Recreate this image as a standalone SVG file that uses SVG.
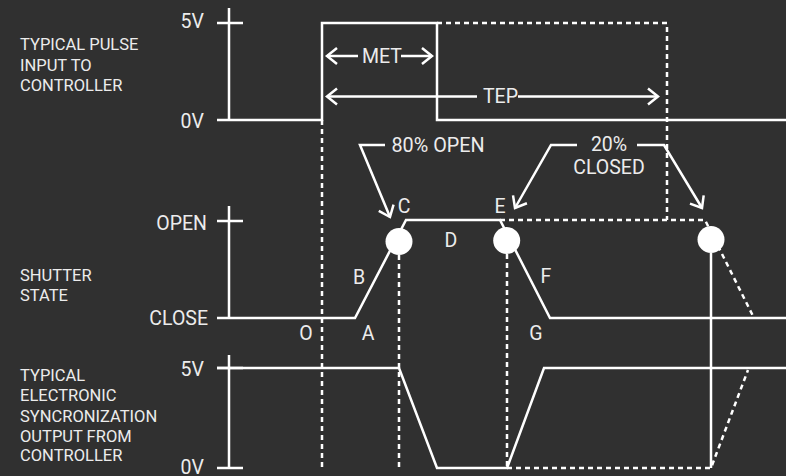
<svg xmlns="http://www.w3.org/2000/svg" width="786" height="476" viewBox="0 0 786 476">
<defs>
<style>
.ln{fill:none;stroke:#ffffff;stroke-width:2.5;stroke-linejoin:miter}
.ds{fill:none;stroke:#ffffff;stroke-width:2.5;stroke-dasharray:5 4}
.t{font-family:Roboto,"Liberation Sans",sans-serif;fill:#ececec}
.lab{font-size:16.5px}
.ax{font-size:19.5px;text-anchor:end}
.pt{font-size:19.5px;text-anchor:middle}
.dot{fill:#ffffff}
</style>
<marker id="ah" markerUnits="userSpaceOnUse" markerWidth="24" markerHeight="24" viewBox="-12 -12 24 24" refX="0" refY="0" orient="auto">
<path d="M-10,-8 L0,0 L-10,8" fill="none" stroke="#ffffff" stroke-width="2.5"/>
</marker>
</defs>
<rect x="0" y="0" width="786" height="476" fill="#303030"/>

<g id="pulse-input">
<text class="t lab" x="20" y="50">TYPICAL PULSE</text>
<text class="t lab" x="20" y="71">INPUT TO</text>
<text class="t lab" x="20" y="91">CONTROLLER</text>
<text class="t ax" x="204" y="28">5V</text>
<text class="t ax" x="204" y="128">0V</text>
<path class="ln" d="M229,8 V120 M217,23 H243"/>
<path class="ln" d="M217,120 H322 V23 H437 V120 H786"/>
<path class="ds" d="M437,23 H667 V220"/>
</g>

<g id="shutter-state">
<text class="t lab" x="20" y="281">SHUTTER</text>
<text class="t lab" x="20" y="301">STATE</text>
<text class="t ax" x="207" y="230">OPEN</text>
<text class="t ax" x="208" y="325">CLOSE</text>
<path class="ln" d="M229,206 V318 M217,221 H243"/>
<path class="ln" d="M217,318 H355 L406,220 H500 L550,318 H786"/>
<path class="ds" d="M500,220 H705 L753,316"/>
<circle class="dot" cx="399" cy="241.5" r="13.5"/>
<circle class="dot" cx="506.7" cy="240.5" r="13.5"/>
<circle class="dot" cx="711" cy="239.5" r="13.5"/>
</g>

<g id="sync-output">
<text class="t lab" x="20" y="381">TYPICAL</text>
<text class="t lab" x="20" y="401">ELECTRONIC</text>
<text class="t lab" x="20" y="422">SYNCRONIZATION</text>
<text class="t lab" x="20" y="442">OUTPUT FROM</text>
<text class="t lab" x="20" y="461">CONTROLLER</text>
<text class="t ax" x="204" y="376">5V</text>
<text class="t ax" x="204" y="474">0V</text>
<path class="ln" d="M229,355 V468 M217,368 H243 M217,468 H243"/>
<path class="ln" d="M217,368 H399 L437,468 H507 L544,368 H786"/>
<path class="ds" d="M507,468 H711 L748,370"/>
</g>

<g id="connectors">
<path class="ds" d="M322,120 V470"/>
<path class="ds" d="M399,255 V470"/>
<path class="ds" d="M507,254 V470"/>
<path class="ln" d="M711,253 V468"/>
<path class="ln" d="M358,56 H327" marker-end="url(#ah)"/>
<path class="ln" d="M401,56 H432" marker-end="url(#ah)"/>
<path class="ln" d="M477,96.5 H327" marker-end="url(#ah)"/>
<path class="ln" d="M518,96.5 H658" marker-end="url(#ah)"/>
<path class="ln" d="M385,145 H360 L390,217" marker-end="url(#ah)"/>
<path class="ln" d="M577,145 H551 L515,208" marker-end="url(#ah)"/>
<path class="ln" d="M637,145 H664 L702,208" marker-end="url(#ah)"/>
</g>

<g id="labels">
<text class="t pt" x="382" y="63">MET</text>
<text class="t pt" x="500.5" y="103">TEP</text>
<text class="t" x="391.5" y="152" font-size="19.8">80% OPEN</text>
<text class="t pt" x="609" y="151">20%</text>
<text class="t pt" x="609" y="174">CLOSED</text>
<text class="t pt" x="306" y="340">O</text>
<text class="t pt" x="368" y="340">A</text>
<text class="t pt" x="359" y="284">B</text>
<text class="t pt" x="404" y="213">C</text>
<text class="t pt" x="451" y="247">D</text>
<text class="t pt" x="500" y="213">E</text>
<text class="t pt" x="546" y="283">F</text>
<text class="t pt" x="536" y="340">G</text>
</g>
</svg>
